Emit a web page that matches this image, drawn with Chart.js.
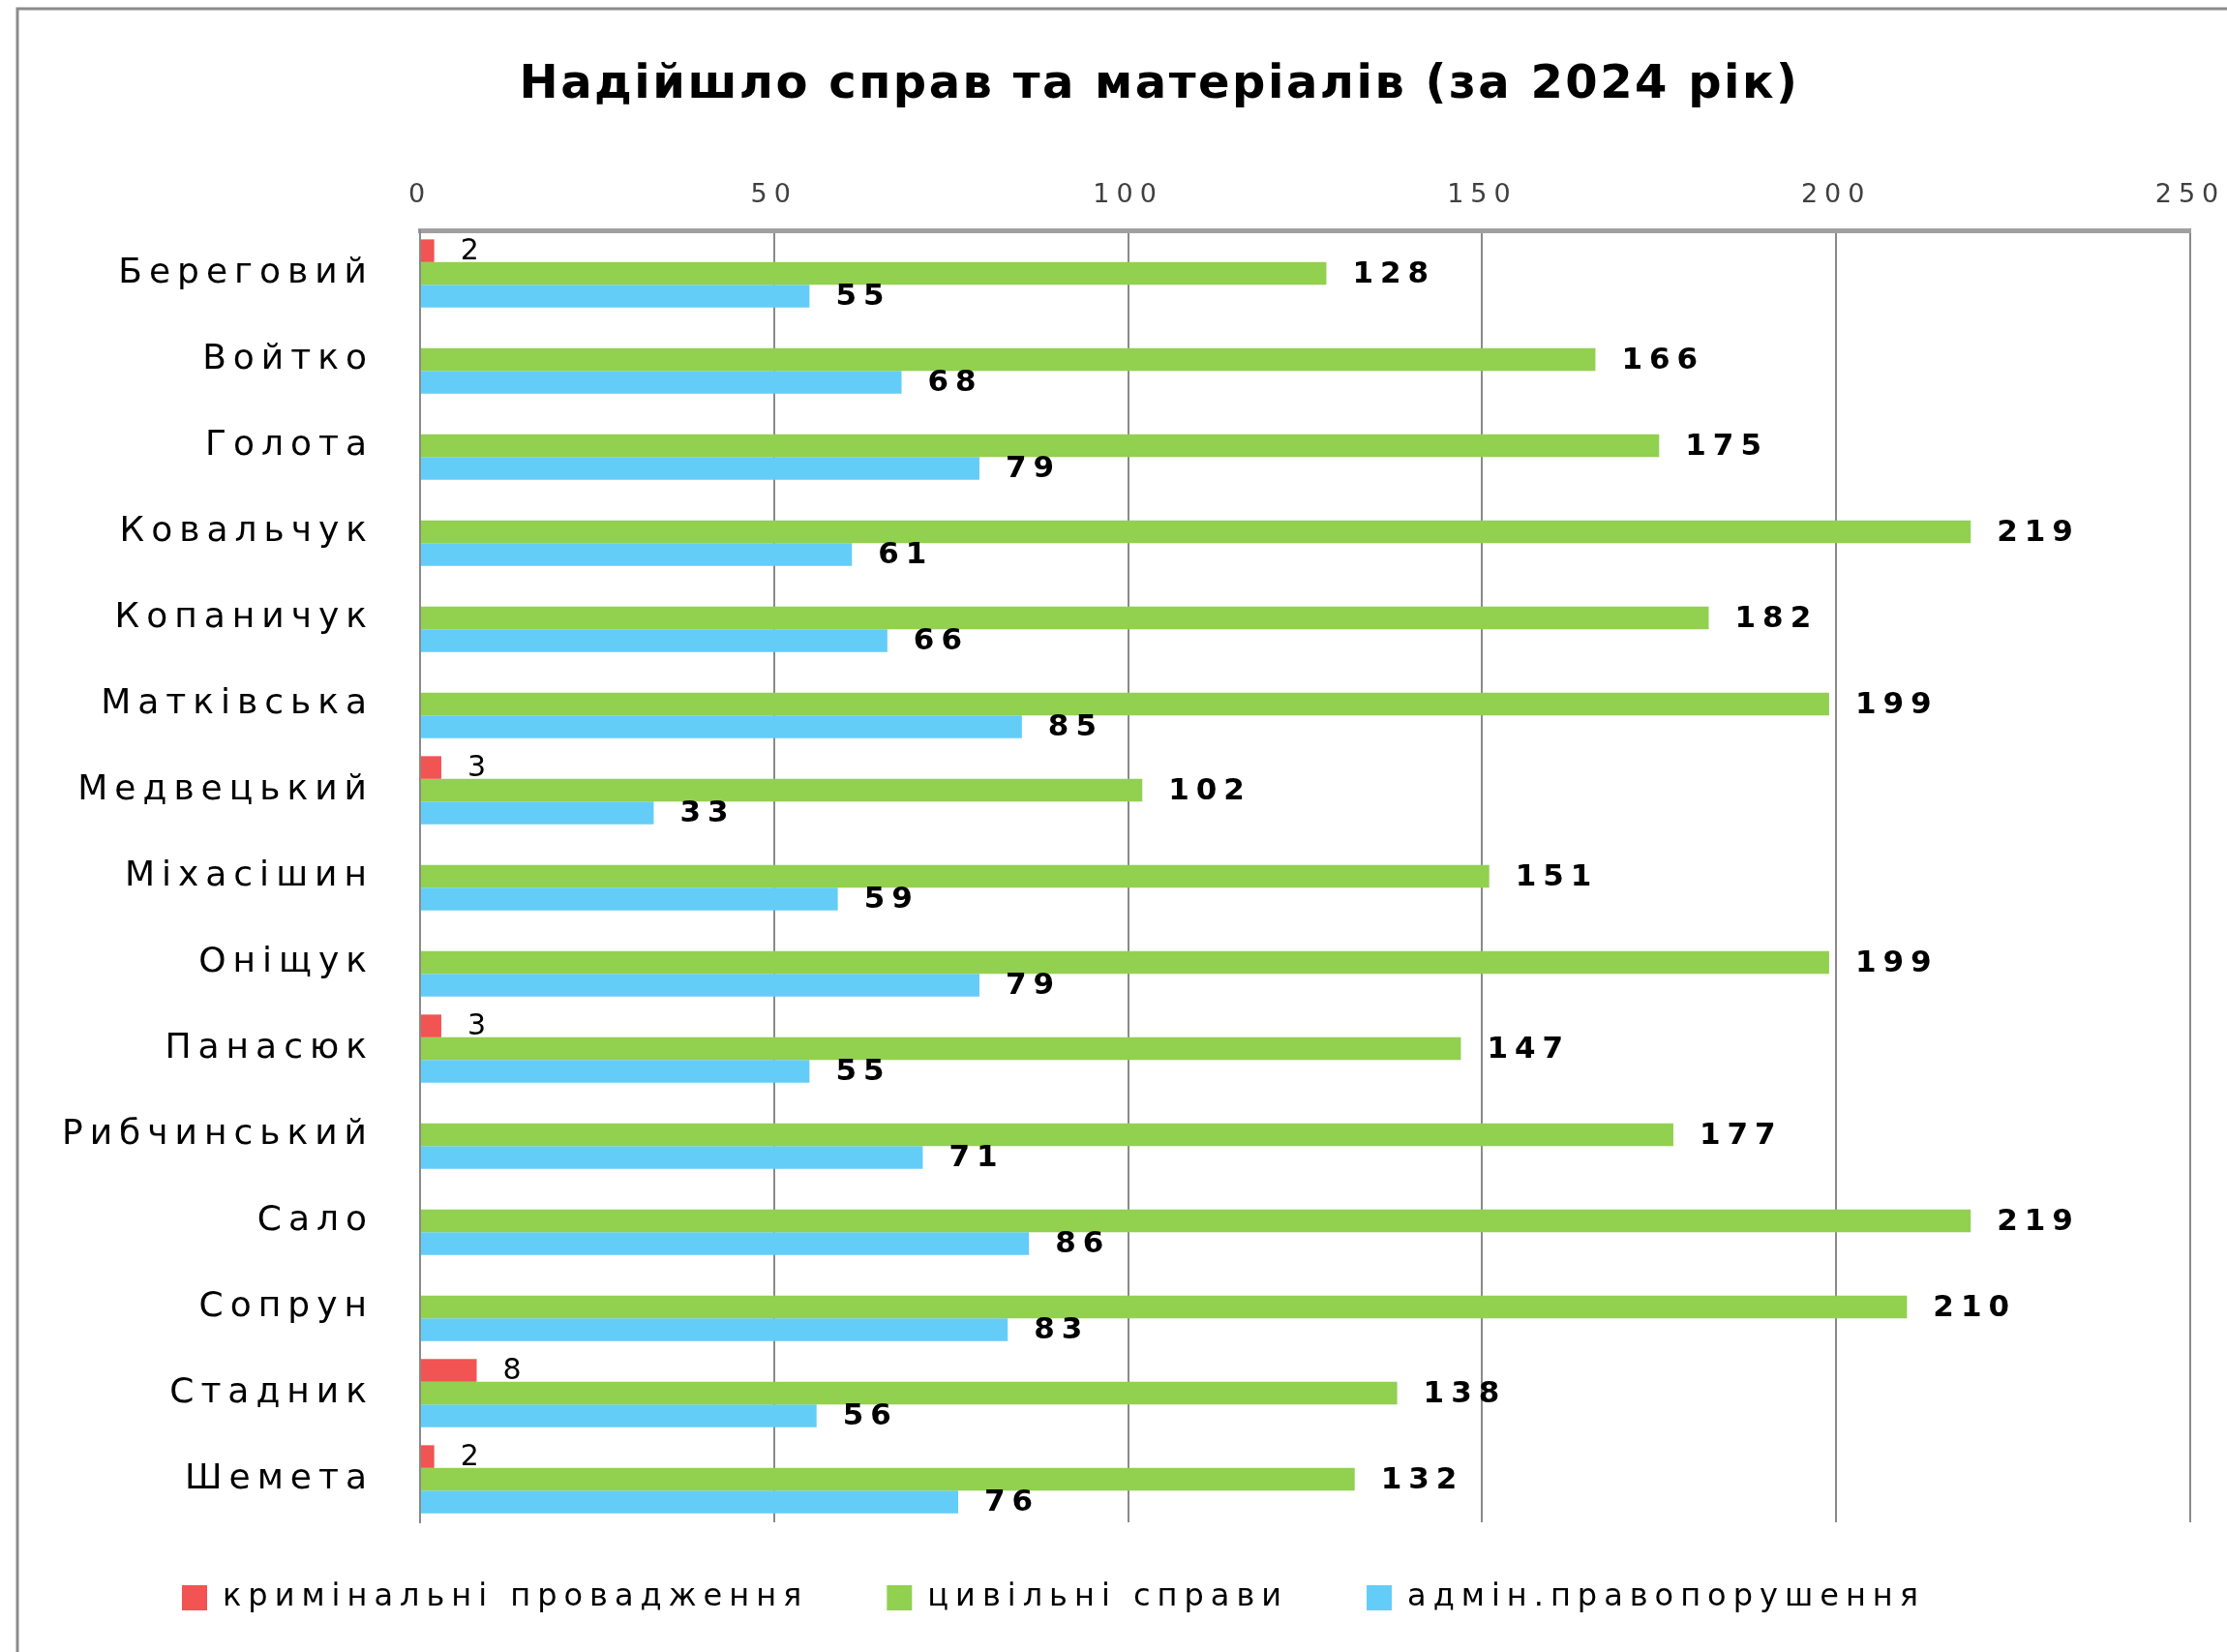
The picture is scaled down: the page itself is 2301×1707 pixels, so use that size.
<!DOCTYPE html>
<html>
<head>
<meta charset="utf-8">
<script src="https://cdn.jsdelivr.net/npm/chart.js@4"></script>
<style>
  body { margin: 0; background: #fff; }
  #wrap { width: 2301px; height: 1707px; }
</style>
</head>
<body>
<div id="wrap"><canvas id="chart"></canvas></div>
<script>
// Дані
const judges = ["Береговий", "Войтко", "Голота", "Ковальчук", "Копаничук", "Матківська", "Медвецький",
  "Міхасішин", "Оніщук", "Панасюк", "Рибчинський", "Сало", "Сопрун", "Стадник", "Шемета"];
const criminal = [2, null, null, null, null, null, 3, null, null, 3, null, null, null, 8, 2];
const civil = [128, 166, 175, 219, 182, 199, 102, 151, 199, 147, 177, 219, 210, 138, 132];
const admin = [55, 68, 79, 61, 66, 85, 33, 59, 79, 55, 71, 86, 83, 56, 76];
const xTicks = [0, 50, 100, 150, 200, 250];
const chartTitle = "Надійшло справ та матеріалів (за 2024 рік)";

const FONT = "'DejaVu Sans', sans-serif";
const SPACING = "7px";

// розрядка тексту, рамка і заголовок
const framePlugin = {
  id: "frame",
  beforeUpdate(chart) { chart.ctx.letterSpacing = SPACING; },
  beforeLayout(chart) { chart.ctx.letterSpacing = SPACING; },
  afterLayout(chart) {
    // щоб довгі підписи осі Y не обрізались
    chart.scales.y.left = 20;
    // легенду трохи вище і лівіше
    chart.legend.top -= 19;
    chart.legend.bottom -= 19;
    chart.legend.left -= 19;
  },
  beforeDraw(chart) {
    const ctx = chart.ctx;
    ctx.letterSpacing = SPACING;
    ctx.save();
    ctx.strokeStyle = "#8c8c8c";
    ctx.lineWidth = 3;
    ctx.beginPath();
    ctx.moveTo(18, chart.height + 5);
    ctx.lineTo(18, 9);
    ctx.lineTo(chart.width + 5, 9);
    ctx.stroke();
    ctx.restore();
  },
  afterDraw(chart) {
    const ctx = chart.ctx;
    ctx.save();
    ctx.letterSpacing = "2.5px";
    ctx.font = "bold 48px " + FONT;
    ctx.fillStyle = "#000";
    ctx.textAlign = "center";
    ctx.textBaseline = "middle";
    ctx.fillText(chartTitle, 1198, 89);
    ctx.restore();
  }
};

// підписи значень
const valueLabels = {
  id: "valueLabels",
  afterDatasetsDraw(chart) {
    const ctx = chart.ctx;
    ctx.save();
    ctx.fillStyle = "#000";
    ctx.textAlign = "left";
    ctx.textBaseline = "middle";
    chart.data.datasets.forEach((ds, i) => {
      const meta = chart.getDatasetMeta(i);
      ctx.font = i === 0 ? "30px " + FONT : "bold 31px " + FONT;
      meta.data.forEach((bar, j) => {
        const v = ds.data[j];
        if (v === null) return;
        ctx.fillText(String(v), bar.x + 27, bar.y + 1);
      });
    });
    ctx.restore();
  }
};

new Chart(document.getElementById("chart"), {
  type: "bar",
  data: {
    labels: judges,
    datasets: [
      { label: "кримінальні провадження", data: criminal, backgroundColor: "#F25353" },
      { label: "цивільні справи", data: civil, backgroundColor: "#92D050" },
      { label: "адмін.правопорушення", data: admin, backgroundColor: "#63CDF8" }
    ]
  },
  options: {
    indexAxis: "y",
    responsive: true,
    maintainAspectRatio: false,
    animation: false,
    categoryPercentage: 0.79,
    barPercentage: 1.0,
    layout: { padding: { left: 126, right: 38, top: 182, bottom: 11 } },
    scales: {
      x: {
        position: "top",
        min: 0,
        max: 250,
        afterBuildTicks(scale) { scale.ticks = xTicks.map(v => ({ value: v })); },
        afterFit(scale) {
          scale.height = 56;
          scale.paddingRight = 0;
        },
        ticks: { font: { family: FONT, size: 27 }, color: "#404040", padding: 20 },
        grid: { color: "#8a8a8a", lineWidth: 2, drawTicks: false },
        border: { color: "#a0a0a0", width: 5 }
      },
      y: {
        afterFit(scale) { scale.width = 434 - 126; },
        ticks: { font: { family: FONT, size: 36 }, color: "#000", padding: 48 },
        grid: { display: false, drawTicks: false },
        border: { color: "#8a8a8a", width: 2 }
      }
    },
    plugins: {
      title: { display: false },
      legend: {
        position: "bottom",
        align: "start",
        labels: {
          font: { family: FONT, size: 32 },
          color: "#000",
          boxWidth: 26,
          boxHeight: 26,
          padding: 81
        }
      },
      tooltip: { enabled: false }
    }
  },
  plugins: [framePlugin, valueLabels]
});
</script>
</body>
</html>
